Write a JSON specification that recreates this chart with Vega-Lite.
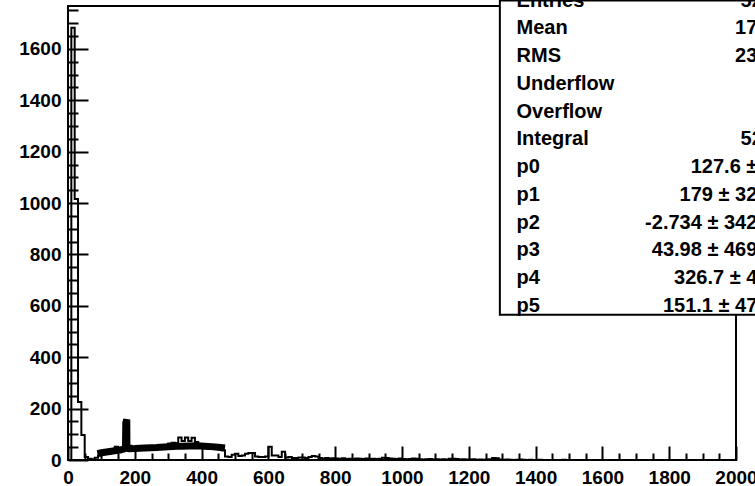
{
  "$schema": "https://vega.github.io/schema/vega-lite/v6.json",
  "width": 668,
  "height": 454,
  "autosize": {"type": "none"},
  "padding": {"left": 68, "top": 6, "right": 19, "bottom": 26},
  "background": "white",
  "config": {"view": {"stroke": null}, "font": "Liberation Sans"},
  "datasets": {
    "hist": [
      {"x":0,"n":0},{"x":10,"n":1682},{"x":20,"n":1016},{"x":30,"n":226},{"x":40,"n":97},{"x":50,"n":12},{"x":60,"n":5},{"x":70,"n":3},{"x":80,"n":9},{"x":90,"n":18},
      {"x":100,"n":22},{"x":110,"n":26},{"x":120,"n":30},{"x":130,"n":34},{"x":140,"n":52},{"x":150,"n":44},{"x":160,"n":40},{"x":170,"n":45},{"x":180,"n":55},{"x":190,"n":48},
      {"x":200,"n":44},{"x":210,"n":46},{"x":220,"n":48},{"x":230,"n":50},{"x":240,"n":47},{"x":250,"n":52},{"x":260,"n":50},{"x":270,"n":54},{"x":280,"n":52},{"x":290,"n":58},
      {"x":300,"n":64},{"x":310,"n":67},{"x":320,"n":66},{"x":330,"n":88},{"x":340,"n":74},{"x":350,"n":88},{"x":360,"n":74},{"x":370,"n":87},{"x":380,"n":70},{"x":390,"n":62},
      {"x":400,"n":56},{"x":410,"n":52},{"x":420,"n":50},{"x":430,"n":46},{"x":440,"n":44},{"x":450,"n":42},{"x":460,"n":38},{"x":470,"n":14},{"x":480,"n":12},{"x":490,"n":20},
      {"x":500,"n":24},{"x":510,"n":16},{"x":520,"n":18},{"x":530,"n":24},{"x":540,"n":27},{"x":550,"n":27},{"x":560,"n":14},{"x":570,"n":12},{"x":580,"n":12},{"x":590,"n":14},
      {"x":600,"n":52},{"x":610,"n":18},{"x":620,"n":18},{"x":630,"n":12},{"x":640,"n":32},{"x":650,"n":10},{"x":660,"n":12},{"x":670,"n":8},{"x":680,"n":8},{"x":690,"n":10},
      {"x":700,"n":10},{"x":710,"n":8},{"x":720,"n":12},{"x":730,"n":16},{"x":740,"n":14},{"x":750,"n":8},{"x":760,"n":6},{"x":770,"n":8},{"x":780,"n":6},{"x":790,"n":7},
      {"x":800,"n":6},{"x":810,"n":5},{"x":820,"n":7},{"x":830,"n":4},{"x":840,"n":5},{"x":850,"n":4},{"x":860,"n":6},{"x":870,"n":5},{"x":880,"n":4},{"x":890,"n":6},
      {"x":900,"n":4},{"x":910,"n":5},{"x":920,"n":4},{"x":930,"n":5},{"x":940,"n":9},{"x":950,"n":8},{"x":960,"n":6},{"x":970,"n":5},{"x":980,"n":4},{"x":990,"n":6},
      {"x":1000,"n":4},{"x":1010,"n":3},{"x":1020,"n":4},{"x":1030,"n":6},{"x":1040,"n":5},{"x":1050,"n":3},{"x":1060,"n":2},{"x":1070,"n":3},{"x":1080,"n":4},{"x":1090,"n":2},
      {"x":1100,"n":3},{"x":1110,"n":2},{"x":1120,"n":3},{"x":1130,"n":2},{"x":1140,"n":5},{"x":1150,"n":5},{"x":1160,"n":4},{"x":1170,"n":2},{"x":1180,"n":3},{"x":1190,"n":2},
      {"x":1200,"n":2},{"x":1210,"n":3},{"x":1220,"n":1},{"x":1230,"n":2},{"x":1240,"n":1},{"x":1250,"n":2},{"x":1260,"n":3},{"x":1270,"n":8},{"x":1280,"n":7},{"x":1290,"n":2},
      {"x":1300,"n":1},{"x":1310,"n":2},{"x":1320,"n":1},{"x":1330,"n":0},{"x":1340,"n":1},{"x":1350,"n":2},{"x":1360,"n":1},{"x":1370,"n":0},{"x":1380,"n":1},{"x":1390,"n":0},
      {"x":1400,"n":0},{"x":1410,"n":1},{"x":1420,"n":0},{"x":1430,"n":0},{"x":1440,"n":0},{"x":1450,"n":0},{"x":1460,"n":0},{"x":1470,"n":0},{"x":1480,"n":1},{"x":1490,"n":0},
      {"x":1500,"n":0},{"x":1510,"n":0},{"x":1520,"n":0},{"x":1530,"n":0},{"x":1540,"n":0},{"x":1550,"n":0},{"x":1560,"n":0},{"x":1570,"n":0},{"x":1580,"n":0},{"x":1590,"n":0},
      {"x":1600,"n":0},{"x":1610,"n":0},{"x":1620,"n":0},{"x":1630,"n":0},{"x":1640,"n":0},{"x":1650,"n":0},{"x":1660,"n":0},{"x":1670,"n":0},{"x":1680,"n":0},{"x":1690,"n":0},
      {"x":1700,"n":0},{"x":1710,"n":0},{"x":1720,"n":0},{"x":1730,"n":0},{"x":1740,"n":0},{"x":1750,"n":0},{"x":1760,"n":0},{"x":1770,"n":0},{"x":1780,"n":0},{"x":1790,"n":0},
      {"x":1800,"n":0},{"x":1810,"n":0},{"x":1820,"n":0},{"x":1830,"n":0},{"x":1840,"n":0},{"x":1850,"n":0},{"x":1860,"n":0},{"x":1870,"n":0},{"x":1880,"n":0},{"x":1890,"n":0},
      {"x":1900,"n":0},{"x":1910,"n":0},{"x":1920,"n":0},{"x":1930,"n":0},{"x":1940,"n":0},{"x":1950,"n":0},{"x":1960,"n":0},{"x":1970,"n":0},{"x":1980,"n":0},{"x":1990,"n":0},
      {"x":2000,"n":0}
    ],
    "fit": [
      {"x":88,"f":25},{"x":100,"f":28},{"x":120,"f":32},{"x":140,"f":36},{"x":160,"f":40},{"x":168,"f":43},{"x":172,"f":46},
      {"x":173,"f":145},{"x":176,"f":158},{"x":176.5,"f":47},{"x":182,"f":44},{"x":200,"f":45},{"x":230,"f":47},{"x":265,"f":49},
      {"x":300,"f":52},{"x":340,"f":54},{"x":385,"f":55},{"x":420,"f":53},{"x":450,"f":50},{"x":470,"f":47}
    ],
    "stats": [
      {"key":"Entries","val":"5258"},
      {"key":"Mean","val":"175.3"},
      {"key":"RMS","val":"234.1"},
      {"key":"Underflow","val":"0"},
      {"key":"Overflow","val":"0"},
      {"key":"Integral","val":"5258"},
      {"key":"p0","val":"127.6 ± 15"},
      {"key":"p1","val":"179 ± 32.59"},
      {"key":"p2","val":"-2.734 ± 342.08"},
      {"key":"p3","val":"43.98 ± 469.32"},
      {"key":"p4","val":"326.7 ± 47.3"},
      {"key":"p5","val":"151.1 ± 47.35"}
    ]
  },
  "layer": [
    {
      "resolve": {"axis": {"x": "independent", "y": "independent"}},
      "layer": [
        {
          "data": {"values": [{}]},
          "mark": {"type": "rect", "fill": "white", "fillOpacity": 0, "stroke": "black", "strokeWidth": 2},
          "encoding": {
            "x": {"datum": 0, "type": "quantitative", "scale": {"domain": [0, 2000], "nice": false, "zero": false},
                  "axis": {"orient": "top", "title": null, "domain": false, "ticks": false, "labels": false, "grid": false}},
            "x2": {"datum": 2000},
            "y": {"datum": 0, "type": "quantitative", "scale": {"domain": [0, 1767], "nice": false, "zero": false},
                  "axis": {"orient": "right", "title": null, "domain": false, "ticks": false, "labels": false, "grid": false}},
            "y2": {"datum": 1767}
          }
        },
        {
          "data": {"name": "hist"},
          "mark": {"type": "line", "interpolate": "step-after", "color": "black", "strokeWidth": 2},
          "encoding": {
            "x": {
              "field": "x", "type": "quantitative",
              "scale": {"domain": [0, 2000], "nice": false, "zero": false},
              "axis": {
                "orient": "bottom", "title": null, "format": "d",
                "values": [0,200,400,600,800,1000,1200,1400,1600,1800,2000],
                "tickSize": -14, "tickColor": "black", "tickWidth": 2, "domain": false, "grid": false,
                "labelFont": "Liberation Sans", "labelFontWeight": "bold", "labelFontSize": 19,
                "labelColor": "black", "labelPadding": 22, "labelOverlap": false, "labelFlush": false
              }
            },
            "y": {
              "field": "n", "type": "quantitative",
              "scale": {"domain": [0, 1767], "nice": false, "zero": false},
              "axis": {
                "orient": "left", "title": null, "format": "d",
                "values": [0,200,400,600,800,1000,1200,1400,1600],
                "tickSize": -20, "tickColor": "black", "tickWidth": 2, "domain": false, "grid": false,
                "labelFont": "Liberation Sans", "labelFontWeight": "bold", "labelFontSize": 19,
                "labelColor": "black", "labelPadding": 27, "labelOverlap": false, "labelFlush": false
              }
            }
          }
        },
        {
          "data": {"name": "fit"},
          "mark": {"type": "line", "color": "black", "strokeWidth": 7, "strokeJoin": "bevel", "strokeCap": "butt"},
          "encoding": {
            "x": {
              "field": "x", "type": "quantitative",
              "scale": {"domain": [0, 2000], "nice": false, "zero": false},
              "axis": {
                "orient": "bottom", "title": null, "labels": false, "domain": false, "grid": false,
                "values": [50,100,150,250,300,350,450,500,550,650,700,750,850,900,950,1050,1100,1150,1250,1300,1350,1450,1500,1550,1650,1700,1750,1850,1900,1950],
                "tickSize": -7, "tickColor": "black", "tickWidth": 2
              }
            },
            "y": {
              "field": "f", "type": "quantitative",
              "scale": {"domain": [0, 1767], "nice": false, "zero": false},
              "axis": {
                "orient": "left", "title": null, "labels": false, "domain": false, "grid": false,
                "values": [50,100,150,250,300,350,450,500,550,650,700,750,850,900,950,1050,1100,1150,1250,1300,1350,1450,1500,1550,1650,1700,1750],
                "tickSize": -10, "tickColor": "black", "tickWidth": 2
              }
            }
          }
        }
      ]
    },
    {
      "layer": [
        {
          "data": {"values": [{}]},
          "mark": {"type": "rect", "fill": "white", "stroke": "black", "strokeWidth": 2, "y2Offset": 9},
          "encoding": {
            "x": {"datum": 1293, "type": "quantitative", "scale": {"domain": [0, 2000], "nice": false, "zero": false},
                  "axis": {"orient": "top", "title": null, "domain": false, "ticks": false, "labels": false, "grid": false}},
            "x2": {"datum": 2300},
            "y": {"datum": "Entries", "type": "nominal", "axis": null,
                  "scale": {"type": "point", "domain": ["Entries","Mean","RMS","Underflow","Overflow","Integral","p0","p1","p2","p3","p4","p5"], "range": [-5.4, 299.8], "padding": 0}},
            "y2": {"datum": "p5"}
          }
        },
        {
          "data": {"name": "stats"},
          "mark": {"type": "text", "align": "left", "baseline": "middle", "font": "Liberation Sans", "fontWeight": "bold", "fontSize": 20, "color": "black"},
          "encoding": {
            "x": {"datum": 1343, "type": "quantitative", "scale": {"domain": [0, 2000], "nice": false, "zero": false},
                  "axis": {"orient": "top", "title": null, "domain": false, "ticks": false, "labels": false, "grid": false}},
            "y": {"field": "key", "type": "nominal", "axis": null, "sort": null,
                  "scale": {"type": "point", "domain": ["Entries","Mean","RMS","Underflow","Overflow","Integral","p0","p1","p2","p3","p4","p5"], "range": [-5.4, 299.8], "padding": 0}},
            "text": {"field": "key"}
          }
        },
        {
          "data": {"name": "stats"},
          "mark": {"type": "text", "align": "right", "baseline": "middle", "font": "Liberation Sans", "fontWeight": "bold", "fontSize": 20, "color": "black"},
          "encoding": {
            "x": {"datum": 2147, "type": "quantitative", "scale": {"domain": [0, 2000], "nice": false, "zero": false},
                  "axis": {"orient": "top", "title": null, "domain": false, "ticks": false, "labels": false, "grid": false}},
            "y": {"field": "key", "type": "nominal", "axis": null, "sort": null,
                  "scale": {"type": "point", "domain": ["Entries","Mean","RMS","Underflow","Overflow","Integral","p0","p1","p2","p3","p4","p5"], "range": [-5.4, 299.8], "padding": 0}},
            "text": {"field": "val"}
          }
        }
      ]
    }
  ],
  "resolve": {"scale": {"y": "independent"}, "axis": {"x": "independent"}}
}
